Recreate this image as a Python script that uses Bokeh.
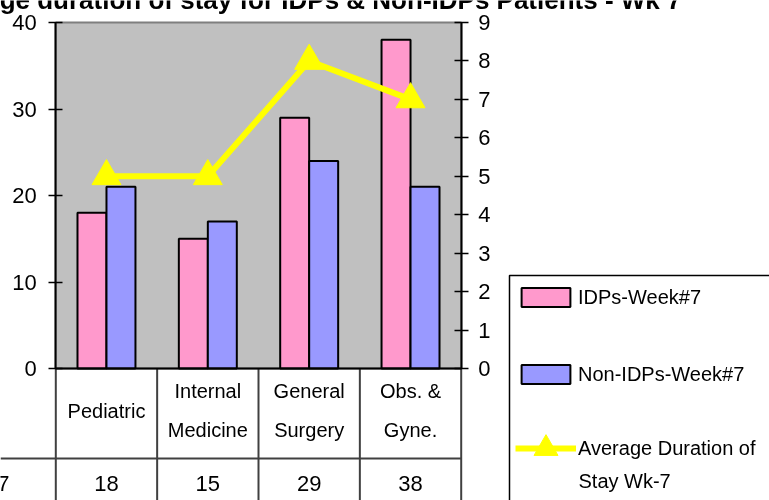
import numpy as np
from bokeh.plotting import figure
from bokeh.models import (Range1d, LinearAxis, FixedTicker, BoxAnnotation, Legend,
                          LegendItem, Label, Grid)
from bokeh.core.properties import value
from bokeh.embed import file_html
from bokeh.resources import INLINE

# ---------------- data ----------------
title_text = "Average duration of stay for IDPs & Non-IDPs Patients - Wk 7"
categories = ["Pediatric", "Internal\nMedicine", "General\nSurgery", "Obs. &\nGyne."]
idps_week7 = [18, 15, 29, 38]
non_idps_week7 = [21, 17, 24, 21]
avg_duration = [5, 5, 8, 7]
left_ticks = [0, 10, 20, 30, 40]
right_ticks = [0, 1, 2, 3, 4, 5, 6, 7, 8, 9]
series_names = ["IDPs-Week#7", "Non-IDPs-Week#7", "Average Duration of", "Stay Wk-7"]

# ---------------- geometry / style ----------------
FONT = "Liberation Sans"
W, H = 769, 500
PX_L, PX_R, PX_T, PX_B = 55.3, 460.7, 22.0, 368.0
n = len(categories)
xs = (PX_R - PX_L) / n
x_start, x_end = -PX_L / xs, (W - PX_L) / xs
ys = (PX_B - PX_T) / left_ticks[-1]
y_start, y_end = -(H - PX_B) / ys, PX_B / ys
ys2 = (PX_B - PX_T) / right_ticks[-1]
y2_start, y2_end = -(H - PX_B) / ys2, PX_B / ys2

PINK, BLUE, GRAY, YELLOW = "#FF99CC", "#9999FF", "#C0C0C0", "#FFFF00"
TABLE = "#404040"

p = figure(width=W, height=H, x_range=Range1d(x_start, x_end), y_range=Range1d(y_start, y_end),
           x_axis_location=None, y_axis_location=None, min_border=0,
           toolbar_location=None, output_backend="svg", outline_line_color=None,
           background_fill_color="white", border_fill_color="white")
for g in p.select(type=Grid):
    g.visible = False
p.styles = {"position": "fixed", "left": "0px", "top": "0px"}
p.extra_y_ranges = {"dur": Range1d(y2_start, y2_end)}

# plot area
p.add_layout(BoxAnnotation(left=0, right=n, bottom=0, top=left_ticks[-1], fill_color=GRAY,
                           fill_alpha=1, line_color="#7f7f7f", line_alpha=1, line_width=2,
                           level="underlay"))

cx = np.arange(n) + 0.5
bw = 0.286
r_idp = p.vbar(x=cx - bw / 2, width=bw, top=idps_week7, bottom=0, fill_color=PINK,
               line_color="black", line_width=2)
r_non = p.vbar(x=cx + bw / 2, width=bw, top=non_idps_week7, bottom=0, fill_color=BLUE,
               line_color="black", line_width=2)
r_line = p.line(cx, avg_duration, y_range_name="dur", line_color=YELLOW, line_width=6)
r_tri = p.scatter(cx, avg_duration, y_range_name="dur", marker="triangle", size=29,
                  fill_color=YELLOW, line_color=YELLOW)

# axes
common = dict(major_tick_in=7, major_tick_out=7, minor_tick_line_color=None,
              axis_line_width=2, major_tick_line_width=1.5,
              major_label_text_font=FONT, major_label_text_font_size="22px",
              major_label_text_color="black")
yl = LinearAxis(fixed_location=0, bounds=(0, left_ticks[-1]),
                ticker=FixedTicker(ticks=left_ticks), major_label_standoff=12, **common)
p.add_layout(yl, "left")
yr = LinearAxis(y_range_name="dur", fixed_location=n, bounds=(0, right_ticks[-1]),
                ticker=FixedTicker(ticks=right_ticks), major_label_standoff=10, **common)
p.add_layout(yr, "right")
xb = LinearAxis(fixed_location=0, bounds=(0, n), ticker=FixedTicker(ticks=[]),
                axis_line_width=2, major_tick_line_color=None, minor_tick_line_color=None,
                major_label_text_font_size="0px")
p.add_layout(xb, "below")

# data table below the chart
p.segment(x0=np.arange(n + 1), x1=np.arange(n + 1), y0=0, y1=y_start,
          line_color=TABLE, line_width=2)
row_line_y = -(458 - PX_B) / ys
p.segment(x0=[x_start], x1=[n], y0=[row_line_y], y1=[row_line_y], line_color=TABLE, line_width=2)
p.text(x=cx, y=-(410 - PX_B) / ys, text=categories, text_align="center", text_baseline="middle",
       text_font=value(FONT), text_font_size="20px", text_line_height=1.8, text_color="black")
val_y = -(483 - PX_B) / ys
p.text(x=cx, y=val_y, text=[str(v) for v in idps_week7], text_align="center",
       text_baseline="middle", text_font=value(FONT), text_font_size="22px", text_color="black")
p.text(x=[x_start + 9 / xs], y=[val_y], text=[series_names[0]], text_align="right",
       text_baseline="middle", text_font=value(FONT), text_font_size="22px", text_color="black")

# title (top cropped as in the reference)
p.add_layout(Label(x=681, y=H + 1, x_units="screen", y_units="screen", text=title_text,
                   text_align="right", text_baseline="alphabetic", text_font=FONT,
                   text_font_style="bold", text_font_size="26px", text_color="black"))

# legend
p.add_layout(BoxAnnotation(left=509, right=W + 20, top=H - 275, bottom=-20,
                           left_units="screen", right_units="screen", top_units="screen",
                           bottom_units="screen", fill_color="white", fill_alpha=1,
                           line_color="black", line_alpha=1, line_width=1.5))
legA = Legend(items=[LegendItem(label=series_names[0], renderers=[r_idp]),
                     LegendItem(label=series_names[1], renderers=[r_non])],
              location=(515, 111), orientation="vertical", glyph_width=61, glyph_height=24,
              label_height=30, label_standoff=2, spacing=47, padding=0, margin=0,
              border_line_color=None, background_fill_alpha=0, label_text_color="black",
              label_text_font=FONT, label_text_font_size="20px")
legB = Legend(items=[LegendItem(label=series_names[2], renderers=[r_line, r_tri])],
              location=(515, 22), orientation="vertical", glyph_width=61, glyph_height=60,
              label_height=30, label_standoff=2, padding=0, margin=0,
              border_line_color=None, background_fill_alpha=0, label_text_color="black",
              label_text_font=FONT, label_text_font_size="20px")
p.add_layout(legA)
p.add_layout(legB)
p.add_layout(Label(x=578, y=H - 480, x_units="screen", y_units="screen", text=series_names[3],
                   text_align="left", text_baseline="middle", text_font=FONT,
                   text_font_size="20px", text_color="black"))

open("out.html", "w").write(file_html(p, INLINE))
